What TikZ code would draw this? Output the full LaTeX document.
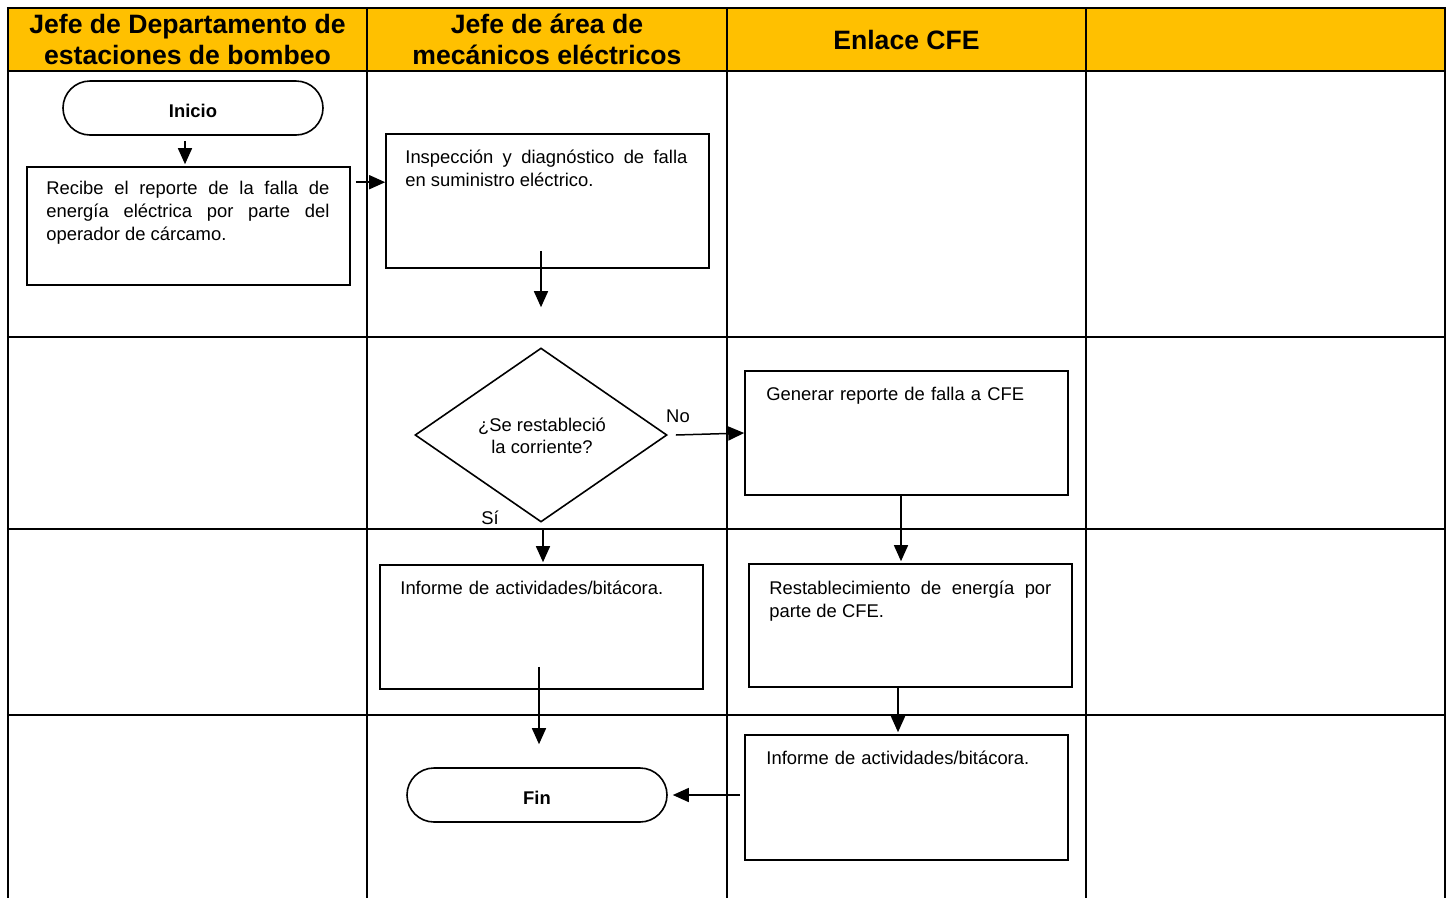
\documentclass[tikz,border=0pt]{standalone}
\usepackage{fontspec}
\setmainfont{Liberation Sans}
\usetikzlibrary{arrows.meta,shapes.geometric}
\definecolor{hdr}{HTML}{FFC000}
\newcommand\bodyfnt{\fontsize{18.4pt}{23pt}\selectfont}
\newcommand\hdrfnt{\fontsize{26.6pt}{31pt}\selectfont\bfseries}
\begin{document}
\begin{tikzpicture}[x=1pt,y=-1pt,
  grid/.style={line width=2.5pt},
  proc/.style={draw,line width=1.6pt,rectangle,inner sep=0pt,minimum width=323pt},
  term/.style={draw,line width=1.6pt,rectangle,rounded corners=27pt,minimum width=260pt,minimum height=54pt,inner sep=0pt,font=\bodyfnt\bfseries,text height=18pt,text depth=0pt},
  txt/.style={anchor=base west,inner sep=0pt,font=\bodyfnt,align=justify},
  lbl/.style={inner sep=0pt,font=\bodyfnt},
  arr/.style={line width=1.5pt,-{Triangle[length=16pt,width=14pt]}},
  hdrtxt/.style={inner sep=0pt,font=\hdrfnt,align=center}]
\useasboundingbox (0,0) rectangle (1452,898);
% header
\fill[hdr] (8,8) rectangle (1445,71);
\foreach \yy in {8,71,337,529,715} \draw[grid] (6.75,\yy) -- (1446.25,\yy);
\foreach \xx in {8,367,727,1086,1445} \draw[grid] (\xx,8) -- (\xx,898);
\node[hdrtxt] (h1) at (187.5,39.5) {Jefe de Departamento de\\estaciones de bombeo};
\node[hdrtxt] (h2) at (547,39.5) {Jefe de área de\\mecánicos eléctricos};
\node[hdrtxt] (h3) at (906.5,39.5) {Enlace CFE};
% nodes
\node[term] (ini) at (193,108) {Inicio};
\node[proc,minimum height=118pt] (b1) at (188.5,226) {};
\node[proc,minimum height=134pt] (b2) at (547.5,201) {};
\node[draw,line width=1.6pt,diamond,inner sep=0pt,minimum width=252pt,minimum height=174pt,aspect=1.45] (dia) at (541,435) {};
\node[lbl,align=center,font=\fontsize{18.4pt}{22pt}\selectfont] (dt) at (542,436) {¿Se restableció\\la corriente?};
\node[proc,minimum height=124pt] (b3) at (906.5,433) {};
\node[proc,minimum height=124pt] (b4) at (541.5,627) {};
\node[proc,minimum height=123pt] (b5) at (910.5,625.5) {};
\node[proc,minimum height=125pt] (b6) at (906.5,797.5) {};
\node[term] (fin) at (537,795) {Fin};
% texts
\node[txt,text width=283pt] (t1) at ([xshift=20pt,yshift=-28.5pt]b1.north west) {Recibe el reporte de la falla de\linebreak energía eléctrica por parte del\linebreak operador de cárcamo.};
\node[txt,text width=282pt] (t2) at ([xshift=20pt,yshift=-30pt]b2.north west) {Inspección y diagnóstico de falla\linebreak en suministro eléctrico.};
\node[txt,text width=300pt,align=left] (t3) at ([xshift=22pt,yshift=-30pt]b3.north west) {Generar reporte de falla a CFE};
\node[txt,text width=300pt,align=left] (t4) at ([xshift=21pt,yshift=-30pt]b4.north west) {Informe de actividades/bitácora.};
\node[txt,text width=282pt] (t5) at ([xshift=21pt,yshift=-31pt]b5.north west) {Restablecimiento de energía por\linebreak parte de CFE.};
\node[txt,text width=300pt,align=left] (t6) at ([xshift=22pt,yshift=-30pt]b6.north west) {Informe de actividades/bitácora.};
\node[lbl] (no) at (678,416) {No};
\node[lbl] (si) at (490,518) {Sí};
% connectors
\draw[arr] ([xshift=-8pt,yshift=-5pt]ini.south) -- ([xshift=-3.5pt,yshift=2pt]b1.north);
\draw[arr] ([xshift=5pt,yshift=-16pt]b1.north east) coordinate (s2) -- (s2 -| b2.west);
\coordinate (s3) at ([yshift=18pt]b2.south);
\coordinate (e3) at ([yshift=40pt]dia.north);
\draw[arr] (s3 -| e3) -- (e3);
\draw[arr] ([xshift=8pt]dia.east) -- (b3.west);
\draw[arr] ([xshift=-5.5pt]b3.south) coordinate (s5) -- ([yshift=2pt]s5 |- b5.north);
\draw[arr] ([xshift=2pt,yshift=-7pt]dia.south) coordinate (s6) -- ([yshift=2pt]s6 |- b4.north);
\coordinate (e7) at ([yshift=23pt]fin.north);
\draw[arr] ([xshift=-2.5pt,yshift=23pt]b4.south) coordinate (s7) -- (s7 |- e7);
\draw[arr] ([xshift=-12.5pt]b5.south) coordinate (s8) -- ([yshift=2pt]s8 |- b6.north);
\coordinate (e9) at ([xshift=5pt]fin.east);
\draw[arr] ([xshift=-4pt,yshift=2.5pt]b6.west) coordinate (s9) -- (e9 |- s9);
\end{tikzpicture}
\end{document}
